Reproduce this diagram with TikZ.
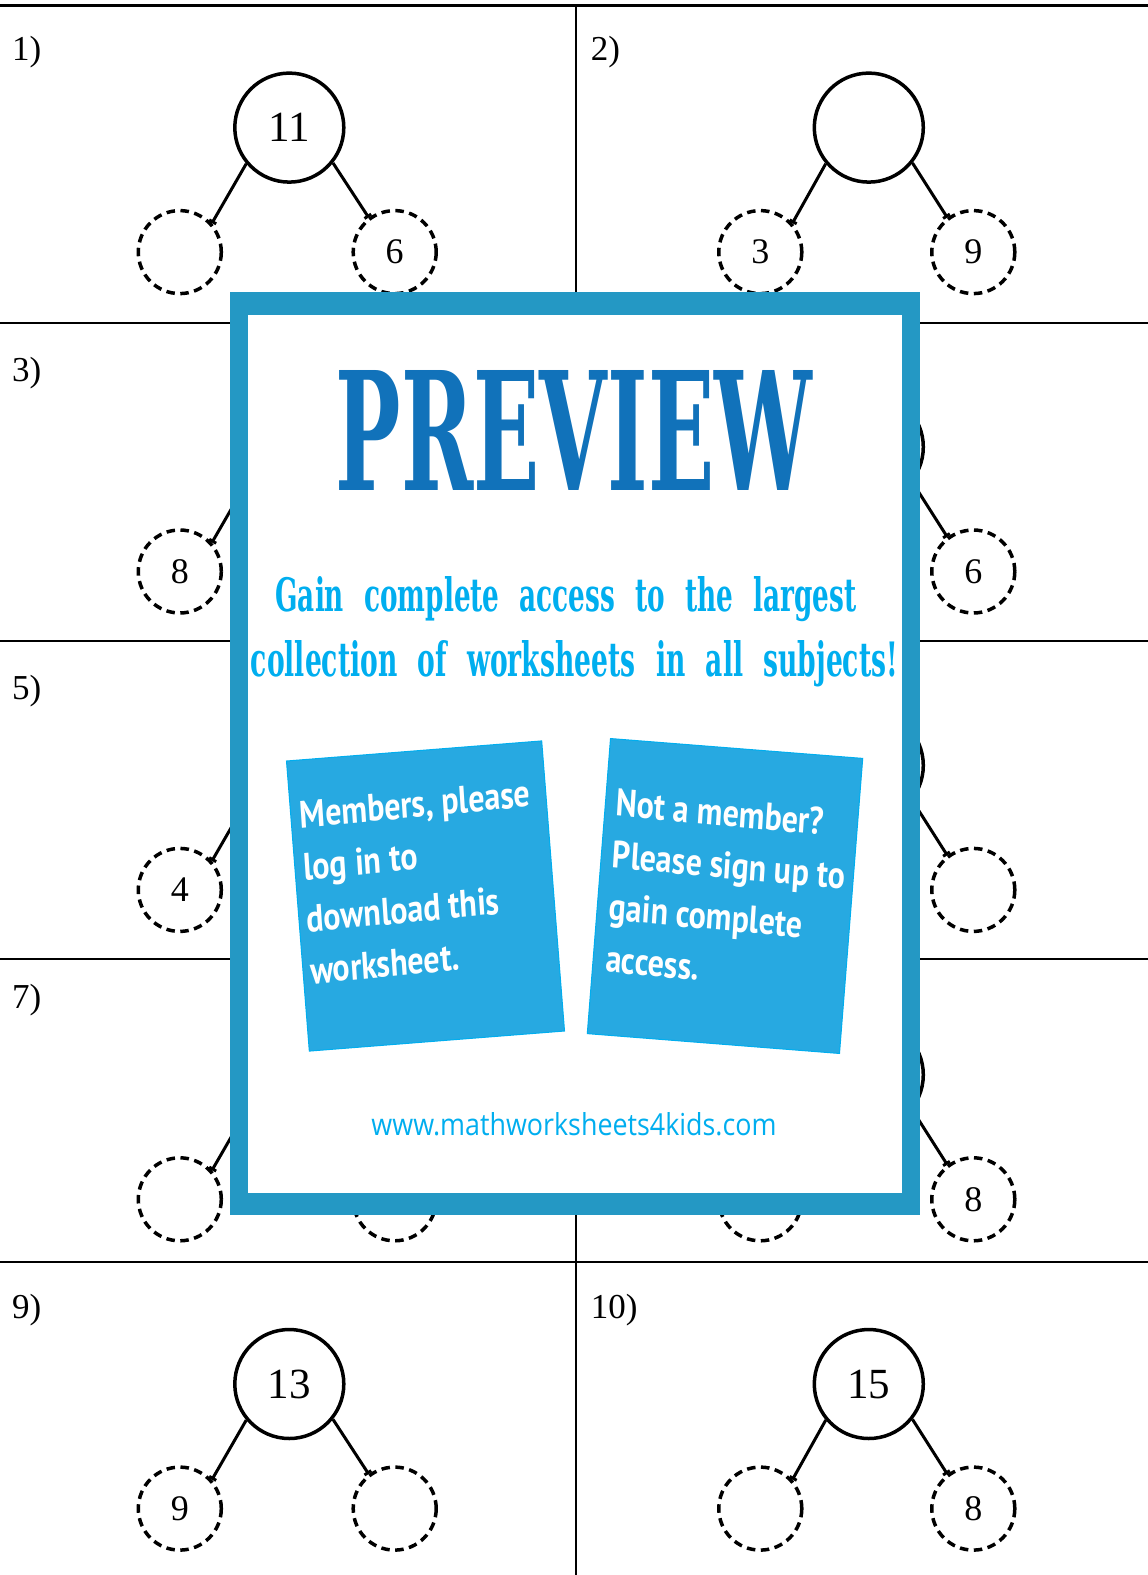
\documentclass[tikz,border=0pt]{standalone}
\usepackage{fontspec}
\setmainfont{Liberation Serif}
\newfontfamily\slabfont[WordSpace=2.2]{DejaVu Serif}
\newfontfamily\cardfont{PT Sans}
\newfontfamily\urlfont{Open Sans}
\usetikzlibrary{arrows.meta, positioning}
\definecolor{frameblue}{RGB}{36,152,196}
\definecolor{previewblue}{RGB}{17,114,186}
\definecolor{inviteblue}{RGB}{0,174,239}
\definecolor{cardblue}{RGB}{39,169,225}

\begin{document}
\begin{tikzpicture}[x=1pt, y=-1pt,
  whole/.style={circle, draw, line width=3.5pt, minimum size=109pt, inner sep=0pt, font=\fontsize{43}{43}\selectfont},
  part/.style={circle, draw, line width=3.5pt, dash pattern=on 8.5pt off 5.5pt, minimum size=83pt, inner sep=0pt, font=\fontsize{36}{36}\selectfont},
  qnum/.style={anchor=base west, inner sep=0pt, font=\fontsize{35}{35}\selectfont},
  branch/.style={line width=3pt, -{Bar[width=8pt]}},
  rule/.style={line width=2pt},
  card/.style={fill=cardblue, draw=inviteblue, line width=1pt, inner sep=0pt},
  cardtext/.style={anchor=north west, inner sep=0pt, align=left, text=white, yscale=1.2, font=\cardfont\bfseries\fontsize{32}{43.5}\selectfont}]
\useasboundingbox (0,0) rectangle (1148,1575);
\draw [line width=3pt] (0,5) -- (1148,5);
\draw [rule] (0,323.4) -- (1148,323.4);
\draw [rule] (0,640.8) -- (1148,640.8);
\draw [rule] (0,959.2) -- (1148,959.2);
\draw [rule] (0,1261.5) -- (1148,1261.5);
\draw [rule] (575.5,5) -- (575.5,1575);
\node (q1) at (12,60.7) [qnum] {1)};
\node (t1) at (289.3,127.6) [whole] {11};
\node (l1) at (179.8,252.1) [part] {};
\node (r1) at (394.7,252.1) [part] {6};
\draw [branch] (t1.220) -- (l1.42);
\draw [branch] (t1.321) -- (r1.127);
\node (q2) at (590.6,60.7) [qnum] {2)};
\node (t2) at (868.8,127.6) [whole] {};
\node (l2) at (760.3,252.1) [part] {3};
\node (r2) at (973.3,252.1) [part] {9};
\draw [branch] (t2.220) -- (l2.42);
\draw [branch] (t2.321) -- (r2.127);
\node (q3) at (12,381) [qnum] {3)};
\node (t3) at (289.3,447.0) [whole] {};
\node (l3) at (179.8,571.5) [part] {8};
\node (r3) at (394.7,571.5) [part] {};
\draw [branch] (t3.220) -- (l3.42);
\draw [branch] (t3.321) -- (r3.127);
\node (t4) at (868.8,447.0) [whole] {};
\node (l4) at (760.3,571.5) [part] {};
\node (r4) at (973.3,571.5) [part] {6};
\draw [branch] (t4.220) -- (l4.42);
\draw [branch] (t4.321) -- (r4.127);
\node (q5) at (12,699) [qnum] {5)};
\node (t5) at (289.3,765.4) [whole] {};
\node (l5) at (179.8,889.9) [part] {4};
\node (r5) at (394.7,889.9) [part] {};
\draw [branch] (t5.220) -- (l5.42);
\draw [branch] (t5.321) -- (r5.127);
\node (t6) at (868.8,765.4) [whole] {};
\node (l6) at (760.3,889.9) [part] {};
\node (r6) at (973.3,889.9) [part] {};
\draw [branch] (t6.220) -- (l6.42);
\draw [branch] (t6.321) -- (r6.127);
\node (q7) at (12,1008) [qnum] {7)};
\node (t7) at (289.3,1074.8) [whole] {};
\node (l7) at (179.8,1199.3) [part] {};
\node (r7) at (394.7,1199.3) [part] {};
\draw [branch] (t7.220) -- (l7.42);
\draw [branch] (t7.321) -- (r7.127);
\node (t8) at (868.8,1074.8) [whole] {};
\node (l8) at (760.3,1199.3) [part] {};
\node (r8) at (973.3,1199.3) [part] {8};
\draw [branch] (t8.220) -- (l8.42);
\draw [branch] (t8.321) -- (r8.127);
\node (q9) at (12,1318) [qnum] {9)};
\node (t9) at (289.3,1384.0) [whole] {13};
\node (l9) at (179.8,1508.6) [part] {9};
\node (r9) at (394.7,1508.6) [part] {};
\draw [branch] (t9.220) -- (l9.42);
\draw [branch] (t9.321) -- (r9.127);
\node (q10) at (590.6,1318) [qnum] {10)};
\node (t10) at (868.8,1384.0) [whole] {15};
\node (l10) at (760.3,1508.6) [part] {};
\node (r10) at (973.3,1508.6) [part] {8};
\draw [branch] (t10.220) -- (l10.42);
\draw [branch] (t10.321) -- (r10.127);
\fill [frameblue] (230,292) rectangle (919.5,1215);
\fill [white] (248,315) rectangle (901.5,1193);
\node (title) at (574,490) [anchor=base, inner sep=0pt, text=previewblue] {\resizebox{476pt}{120pt}{\slabfont\bfseries PREVIEW}};
\node (invite1) at (566,611.7) [anchor=base, inner sep=0pt, text=inviteblue] {\resizebox{581pt}{35pt}{\slabfont\bfseries Gain complete access to the largest}};
\node (invite2) at (574.5,676.7) [anchor=base, inner sep=0pt, text=inviteblue] {\resizebox{647pt}{36pt}{\slabfont\bfseries collection of worksheets in all subjects!}};
\node (members) at (425.5,896) [card, rotate=4.5, minimum width=256pt, minimum height=291pt] {};
\node (joiners) at (725,896) [card, rotate=-4.5, minimum width=253pt, minimum height=296pt] {};
\node (memberstext) at (299,801) [cardtext, rotate=4.5] {Members, please\\log in to\\download this\\worksheet.};
\node (joinerstext) at (617,788) [cardtext, rotate=-4.5] {Not a member?\\Please sign up to\\gain complete\\access.};
\node (site) at (574,1124) [inner sep=0pt, text=inviteblue] {\resizebox{405pt}{23pt}{\urlfont www.mathworksheets4kids.com}};
\end{tikzpicture}
\end{document}
